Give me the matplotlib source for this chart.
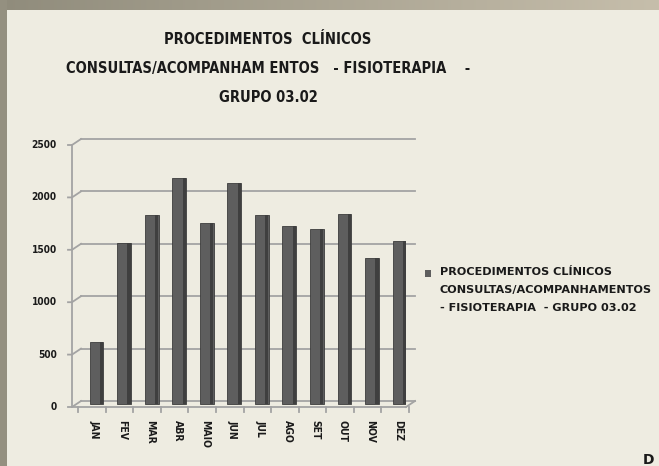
import matplotlib
matplotlib.use("Agg")
import matplotlib.pyplot as plt
import matplotlib.transforms as mtransforms
from matplotlib.patches import Rectangle
from matplotlib.colors import LinearSegmentedColormap
import numpy as np

# ── Data ──────────────────────────────────────────────────────────────────────
months = ["JAN", "FEV", "MAR", "ABR", "MAIO", "JUN",
          "JUL", "AGO", "SET", "OUT", "NOV", "DEZ"]
values = [595, 1540, 1805, 2155, 1730, 2110, 1805, 1700, 1670, 1815, 1395, 1555]
yticks = [0, 500, 1000, 1500, 2000, 2500]

title_lines = ["PROCEDIMENTOS  CLÍNICOS",
               "CONSULTAS/ACOMPANHAM ENTOS   - FISIOTERAPIA    -",
               "GRUPO 03.02"]
legend_label = ("PROCEDIMENTOS CLÍNICOS\n"
                "CONSULTAS/ACOMPANHAMENTOS\n"
                "- FISIOTERAPIA  - GRUPO 03.02")

FONT = ["DejaVu Sans"]
BG = "#EEECE1"
BAR = "#5E5E5E"
GRID = "#A3A3A3"
TXT = "#1a1a1a"

W, H = 659, 466
fig = plt.figure(figsize=(W / 100, H / 100), dpi=100, facecolor=BG)
renderer = fig.canvas.get_renderer()


def fit_width(txt, target_px):
    """shrink/grow a text so its width matches target_px"""
    w = txt.get_window_extent(renderer).width
    txt.set_fontsize(txt.get_fontsize() * target_px / w)


# ── Outer frame (slide border, top band is a gradient) ────────────────────────
band = fig.add_axes([0, 1 - 10 / H, 1, 10 / H])
band.axis("off")
cmap = LinearSegmentedColormap.from_list("band", ["#908C7C", "#C6BEAB"])
band.imshow(np.linspace(0, 1, 256)[None, :], cmap=cmap, aspect="auto",
            extent=[0, 1, 0, 1])
fig.patches.append(Rectangle((0, 0), 7 / W, 1, transform=fig.transFigure,
                             fc="#949080", ec="none", zorder=0))

# ── Axes ──────────────────────────────────────────────────────────────────────
x_left, x_right = 72, 406
y_zero, y_top = 407, 145
ax = fig.add_axes([x_left / W, (H - y_zero) / H,
                   (x_right - x_left) / W, (y_zero - y_top) / H])
ax.set_facecolor("none")
for s in ax.spines.values():
    s.set_visible(False)

xs = list(range(len(months)))
ax.set_xlim(-0.73, 11.4)
ax.set_ylim(0, 2500)
ax.set_xticks([])
ax.set_yticks([])

# 3D depth offset in pixels
DX, DY = 9, 6
back = mtransforms.offset_copy(ax.transData, fig=fig, x=DX * 0.72, y=DY * 0.72, units="points")
mid = mtransforms.offset_copy(ax.transData, fig=fig, x=DX * 0.36, y=DY * 0.36, units="points")

xmin, xmax = ax.get_xlim()
# back wall gridlines + diagonal connectors
for t in yticks:
    ax.plot([xmin, xmax], [t, t], color=GRID, lw=1.3, transform=back,
            clip_on=False, zorder=1)
    x0, y0 = ax.transData.transform((xmin, t))
    ax.plot([x0 - 4, x0, x0 + DX], [y0, y0, y0 + DY],
            color=GRID, lw=1.3, transform=None, clip_on=False, zorder=1)

# vertical axis line and floor
ax.plot([xmin, xmin], [0, 2500], color=GRID, lw=1.3, clip_on=False, zorder=2)
ax.plot([xmin, xmax], [0, 0], color=GRID, lw=1.3, clip_on=False, zorder=2)
fx0, fy0 = ax.transData.transform((xmax, 0))
ax.plot([fx0, fx0 + DX], [fy0, fy0 + DY], color=GRID, lw=1.3,
        transform=None, clip_on=False, zorder=2)
for i in range(len(months) + 1):
    px, py = ax.transData.transform((i - 0.5, 0))
    ax.plot([px, px], [py, py - 5], color=GRID, lw=1.3, transform=None,
            clip_on=False, zorder=2)

# ── Bars (with dark side face) ────────────────────────────────────────────────
bw = 0.5
ax.bar(xs, values, width=bw, color=BAR, edgecolor="#3c3c3c", lw=0.6,
       transform=mid, zorder=3)
ax.bar([x + bw / 2 - 0.07 for x in xs], values, width=0.12, color="#3f3f3f",
       lw=0, transform=mid, zorder=4)

# ── Tick labels ───────────────────────────────────────────────────────────────
ylab_tr = mtransforms.offset_copy(ax.transData, fig=fig, x=-11, y=0, units="points")
for t in yticks:
    ax.text(xmin, t, f"{t}", transform=ylab_tr, ha="right", va="center",
            fontsize=7.3, fontweight="bold", color=TXT, family=FONT,
            fontstretch="condensed")
xlab_tr = mtransforms.offset_copy(ax.transData, fig=fig, x=2, y=-9, units="points")
for x, m in zip(xs, months):
    ax.text(x, 0, m, transform=xlab_tr, ha="center", va="top", rotation=270,
            fontsize=7.5, fontweight="bold", color=TXT, family=FONT,
            fontstretch="condensed")

# ── Title ─────────────────────────────────────────────────────────────────────
title_y = [40, 69, 98]
tts = []
for line, y in zip(title_lines, title_y):
    tts.append(fig.text(268 / W, 1 - y / H, line, ha="center", va="center",
                        fontsize=12, fontweight="bold", color=TXT, family=FONT,
                        fontstretch="condensed"))
fit_width(tts[1], 405)
for t in tts:
    t.set_fontsize(tts[1].get_fontsize())

# ── Legend ────────────────────────────────────────────────────────────────────
fig.patches.append(Rectangle((425 / W, 1 - 277 / H), 6 / W, 7 / H,
                             transform=fig.transFigure, fc=BAR, ec="none"))
leg = fig.text(440 / W, 1 - 267 / H, legend_label, ha="left", va="top", fontsize=7,
               fontweight="bold", color=TXT, family=FONT, linespacing=2.0)
fit_width(leg, 212)

# cut-off text at the bottom-right corner
fig.text(643 / W, 1 - 460 / H, "D", ha="left", va="center", fontsize=10,
         fontweight="bold", color=TXT, family=FONT)

fig.savefig("out.png", dpi=100, facecolor=BG)
